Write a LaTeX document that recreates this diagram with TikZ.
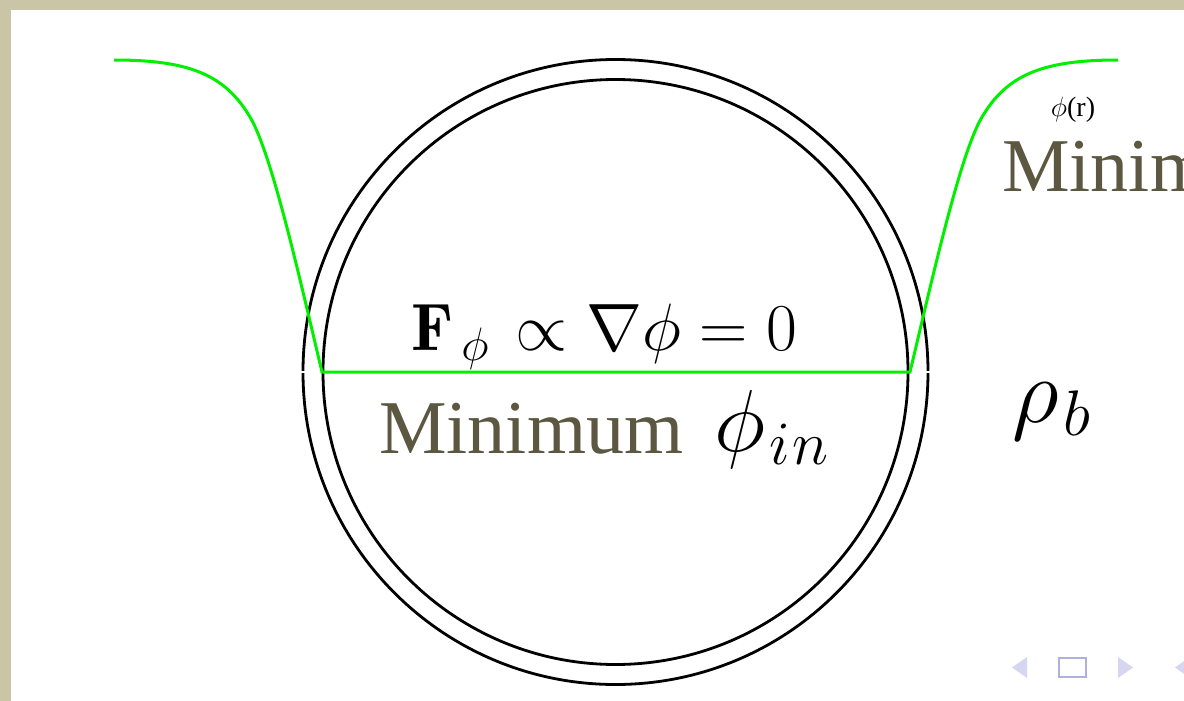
\RequirePackage{fix-cm}
\documentclass[tikz,border=0pt]{standalone}
\usepackage{fontspec}
\newfontfamily\timesfont{Liberation Serif}
\definecolor{beige}{HTML}{C9C5A6}
\definecolor{olive}{HTML}{5B5740}
\definecolor{greenline}{RGB}{0,240,0}
\definecolor{navlight}{HTML}{D6D6F0}
\definecolor{navdark}{HTML}{B0B0DE}
\tikzset{
  ring/.style={draw=black, line width=2.8pt},
  profile/.style={draw=greenline, line width=3pt, line join=miter},
  lbl/.style={inner sep=0pt, anchor=base west},
  navtri/.style={fill=navlight, draw=none},
}
\begin{document}
\begin{tikzpicture}[x=1pt,y=-1pt]
\useasboundingbox (0,0) rectangle (1184,701);
\begin{scope}
\clip (0,0) rectangle (1184,701);
% page frame
\fill[white] (0,0) rectangle (1184,701);
\fill[beige] (0,0) rectangle (1184,10);
\fill[beige] (0,0) rectangle (11,701);
% shells
\draw[ring] (615.5,372) circle[radius=312.5];
\draw[ring] (615.5,372) circle[radius=292.5];
\draw[white, line width=1.2pt] (299,372) -- (307,372);
\draw[white, line width=1.2pt] (925,372) -- (933,372);
% field profile
\draw[profile] (114,60) .. controls (190,60) and (225,75) .. (250,117)
  .. controls (272,154) and (300,280) .. (322,372)
  -- (910,372)
  .. controls (932,280) and (960,154) .. (982,117)
  .. controls (1007,75) and (1042,60) .. (1118,60);
% labels
\node[lbl] (force) at (411,350) {\fontsize{67}{74}\selectfont $\mathbf{F}_{\kern0.12em\phi}\kern0.12em \propto \nabla\phi = 0$};
\node[lbl, text=olive] (minin) at (379,453) {\fontsize{76}{84}\selectfont\timesfont Minimum};
\node[lbl] (phiin) at (714,451) {\fontsize{88}{96}\selectfont $\phi_{\kern0.05em i\kern0.03em n}$};
\node[lbl] (rhob) at (1012,422) {\fontsize{92}{100}\selectfont $\rho_{\kern0.05em b}$};
\node[inner sep=0pt, anchor=base] (phir) at (1073,117) {\fontsize{28}{32}\selectfont\timesfont $\phi$(r)};
\node[lbl, text=olive] (minout) at (1002,191) {\fontsize{76}{84}\selectfont\timesfont Minimum};
% navigation symbols
\fill[navtri] (1012,667.5) -- (1027,657) -- (1027,678) -- cycle;
\draw[navdark, line width=2.5pt] (1059,658) rectangle (1086,677);
\fill[navtri] (1133,667.5) -- (1118,657) -- (1118,678) -- cycle;
\fill[navtri] (1175,667.5) -- (1190,657) -- (1190,678) -- cycle;
\end{scope}
\end{tikzpicture}
\end{document}
